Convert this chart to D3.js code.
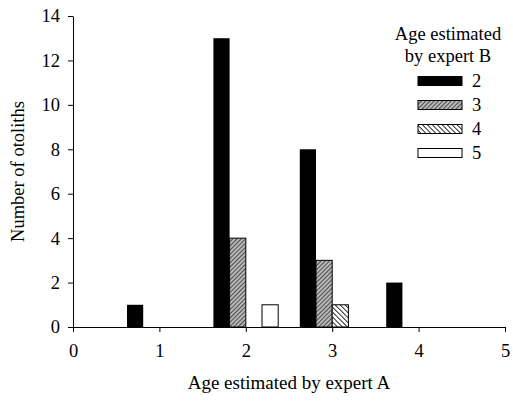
<!DOCTYPE html>
<html>
<head>
<meta charset="utf-8">
<script src="https://cdn.jsdelivr.net/npm/d3@7"></script>
<style>
body { margin: 0; background: #fff; }
</style>
</head>
<body>
<script>
// age estimated by expert A (x position of each group)
var ageA = [1, 2, 3, 4];
// age estimated by expert B (series)
var ageB = ["2", "3", "4", "5"];
// counts per series, one value per ageA
var countB2 = [1, 13, 8, 2];
var countB3 = [0, 4, 3, 0];
var countB4 = [0, 0, 1, 0];
var countB5 = [0, 1, 0, 0];
var xTicks = [0, 1, 2, 3, 4, 5];
var yTicks = [0, 2, 4, 6, 8, 10, 12, 14];

var series = [countB2, countB3, countB4, countB5];
var fills = ["#000", "url(#hatch3)", "url(#hatch4)", "#fff"];
var serif = "Liberation Serif";
var fs = 18.5;

var width = 513, height = 405;
var margin = {top: 16, right: 8, bottom: 78, left: 73};

var svg = d3.select("body").append("svg")
    .attr("width", width)
    .attr("height", height);

var defs = svg.append("defs");
var p3 = defs.append("pattern")
    .attr("id", "hatch3")
    .attr("patternUnits", "userSpaceOnUse")
    .attr("width", 3).attr("height", 3)
    .attr("patternTransform", "rotate(45)");
p3.append("rect").attr("width", 3).attr("height", 3).attr("fill", "#b8b8b8");
p3.append("line").attr("x1", 0).attr("y1", 0).attr("x2", 0).attr("y2", 3)
    .attr("stroke", "#333").attr("stroke-width", 1.6);

var p4 = defs.append("pattern")
    .attr("id", "hatch4")
    .attr("patternUnits", "userSpaceOnUse")
    .attr("width", 3.5).attr("height", 3.5)
    .attr("patternTransform", "rotate(-45)");
p4.append("rect").attr("width", 3.5).attr("height", 3.5).attr("fill", "#fff");
p4.append("line").attr("x1", 0).attr("y1", 0).attr("x2", 0).attr("y2", 3.5)
    .attr("stroke", "#000").attr("stroke-width", 1.6);

var x = d3.scaleLinear().domain([0, 5]).range([margin.left, width - margin.right]);
var y = d3.scaleLinear().domain([0, 14]).range([height - margin.bottom, margin.top]);

var groupWidth = 0.75;
var barWidth = groupWidth / ageB.length;

series.forEach(function(vals, i) {
    svg.append("g").selectAll("rect")
        .data(vals.map(function(v, j) { return {a: ageA[j], v: v}; }).filter(function(d) { return d.v > 0; }))
        .enter().append("rect")
        .attr("x", function(d) { return x(d.a - groupWidth / 2 + i * barWidth); })
        .attr("width", x(barWidth) - x(0))
        .attr("y", function(d) { return y(d.v); })
        .attr("height", function(d) { return y(0) - y(d.v); })
        .attr("fill", fills[i])
        .attr("stroke", i === 0 ? "none" : "#000")
        .attr("stroke-width", 1);
});

var xAxis = svg.append("g")
    .attr("transform", "translate(0," + y(0) + ")")
    .call(d3.axisBottom(x).tickValues(xTicks).tickFormat(d3.format("d"))
        .tickSize(5).tickPadding(12).tickSizeOuter(0));
var yAxis = svg.append("g")
    .attr("transform", "translate(" + x(0) + ",0)")
    .call(d3.axisLeft(y).tickValues(yTicks).tickFormat(d3.format("d"))
        .tickSize(5).tickPadding(8).tickSizeOuter(0));

[xAxis, yAxis].forEach(function(ax) {
    ax.attr("font-size", fs);
    ax.selectAll("text").attr("fill", "#000");
    ax.selectAll("line, path").attr("stroke", "#000");
});

svg.append("text")
    .attr("x", 289).attr("y", 389)
    .attr("text-anchor", "middle")
    .attr("font-size", 19)
    .text("Age estimated by expert A");

svg.append("text")
    .attr("transform", "translate(24," + ((y(0) + y(14)) / 2) + ") rotate(-90)")
    .attr("text-anchor", "middle")
    .attr("font-size", fs)
    .text("Number of otoliths");

// legend
var legend = svg.append("g").attr("font-size", fs);
legend.append("text").attr("x", 448).attr("y", 40).attr("text-anchor", "middle")
    .text("Age estimated");
legend.append("text").attr("x", 448).attr("y", 62).attr("text-anchor", "middle")
    .text("by expert B");
ageB.forEach(function(b, i) {
    var cy = 81 + i * 24;
    legend.append("rect")
        .attr("x", 418).attr("y", cy - 4.5)
        .attr("width", 44).attr("height", 9)
        .attr("fill", fills[i])
        .attr("stroke", "#000").attr("stroke-width", 1);
    legend.append("text")
        .attr("x", 472).attr("y", cy + 6)
        .text(b);
});

// serif font on every text directly
svg.selectAll("text").attr("font-family", serif);
</script>
</body>
</html>
